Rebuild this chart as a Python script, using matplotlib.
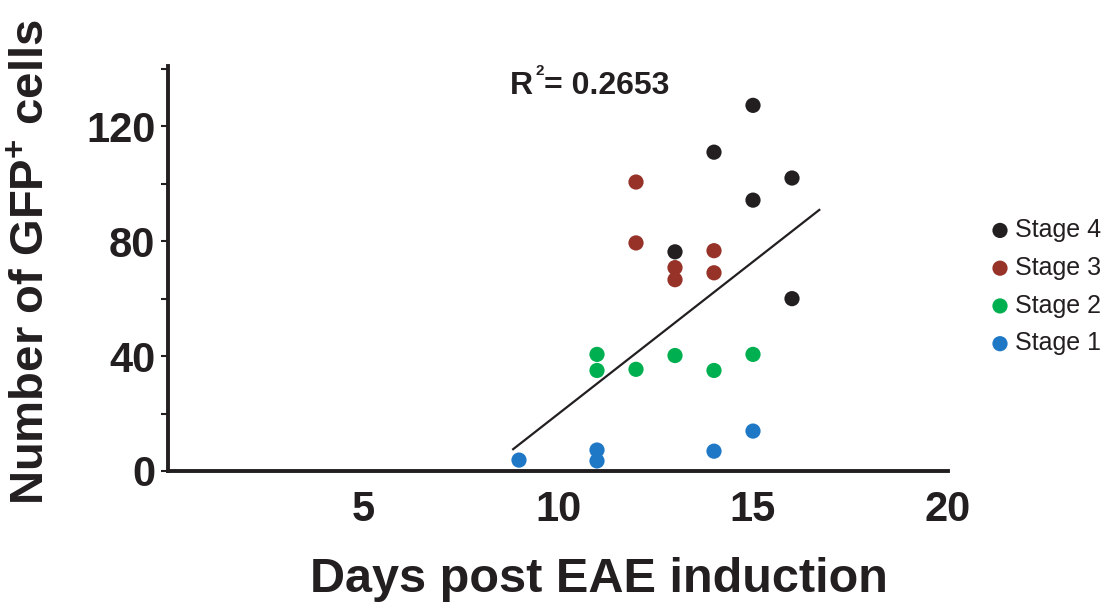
import matplotlib
matplotlib.use("Agg")
import matplotlib.pyplot as plt

plt.rcParams['font.family'] = ['Liberation Sans', 'DejaVu Sans']
plt.rcParams['mathtext.default'] = 'regular'

# ---- data ----
stage4_x = [15, 14, 16, 15, 13, 16]
stage4_y = [127.3, 111, 102, 94.3, 76.3, 60]
stage3_x = [12, 12, 14, 13, 13, 14]
stage3_y = [100.6, 79.4, 76.7, 70.8, 66.6, 69]
stage2_x = [11, 11, 12, 13, 14, 15]
stage2_y = [40.6, 35, 35.4, 40.2, 35, 40.6]
stage1_x = [9, 11, 11, 14, 15]
stage1_y = [3.8, 7.3, 3.5, 6.9, 13.9]
trend_x = [8.85, 16.7]
trend_y = [7.6, 90.9]
x_ticks = [5, 10, 15, 20]
y_ticks = [0, 40, 80, 120]
y_minor = [20, 60, 100, 140]
series_labels = ["Stage 4", "Stage 3", "Stage 2", "Stage 1"]
r2_text = "0.2653"

colors = ["#231f20", "#963228", "#00b050", "#1f78c6"]
dark = "#231f20"

fig = plt.figure(figsize=(11.04, 6.09), dpi=100)
ax = fig.add_axes([168/1104, 1-471/609, (948-168)/1104, (471-66)/609])

ms = 120
handles = []
for xs, ys, c, lab in zip([stage4_x, stage3_x, stage2_x, stage1_x],
                          [stage4_y, stage3_y, stage2_y, stage1_y],
                          colors, series_labels):
    h = ax.scatter(xs, ys, s=ms, color=c, edgecolors='none', label=lab, zorder=3, clip_on=False)
    handles.append(h)

ax.plot(trend_x, trend_y, color=dark, lw=1.6, zorder=2)

ax.set_xlim(0, 20)
ax.set_ylim(0, 141)
ax.set_xticks(x_ticks)
ax.set_yticks(y_ticks)
ax.set_yticks(y_minor, minor=True)
for s in ['top', 'right']:
    ax.spines[s].set_visible(False)
for s in ['left', 'bottom']:
    ax.spines[s].set_linewidth(2.8)
    ax.spines[s].set_color(dark)
ax.tick_params(axis='x', length=0, pad=14, labelsize=30, labelcolor=dark)
ax.tick_params(axis='y', which='both', length=5, width=1.5, color=dark, direction='out',
               pad=4, labelsize=30, labelcolor=dark)
for lab in ax.get_xticklabels() + ax.get_yticklabels():
    lab.set_fontweight('bold')

fig.text(32/1104, 1-262/609, r"Number of GFP$^{+}$ cells", rotation=90, ha='center', va='center',
         fontsize=34, fontweight='bold', color=dark)
fig.text(599/1104, 1-580/609, "Days post EAE induction", ha='center', va='center',
         fontsize=35, fontweight='bold', color=dark)

# R^2 annotation
fig.text(510/1104, 1-94/609, "R", ha='left', va='baseline', fontsize=23, fontweight='bold', color=dark)
fig.text(535/1104, 1-75/609, "2", ha='left', va='baseline', fontsize=11, fontweight='bold', color=dark)
fig.text(544/1104, 1-94/609, "= " + r2_text, ha='left', va='baseline', fontsize=23, fontweight='bold', color=dark)

leg = fig.legend(handles=handles, labels=series_labels, loc='upper left',
                 bbox_to_anchor=(975/1104, 1-208/609), frameon=False, fontsize=18,
                 handletextpad=0.0, labelspacing=0.55, handlelength=1.2, borderaxespad=0)
for t in leg.get_texts():
    t.set_color(dark)

fig.savefig("out.png", dpi=100)
